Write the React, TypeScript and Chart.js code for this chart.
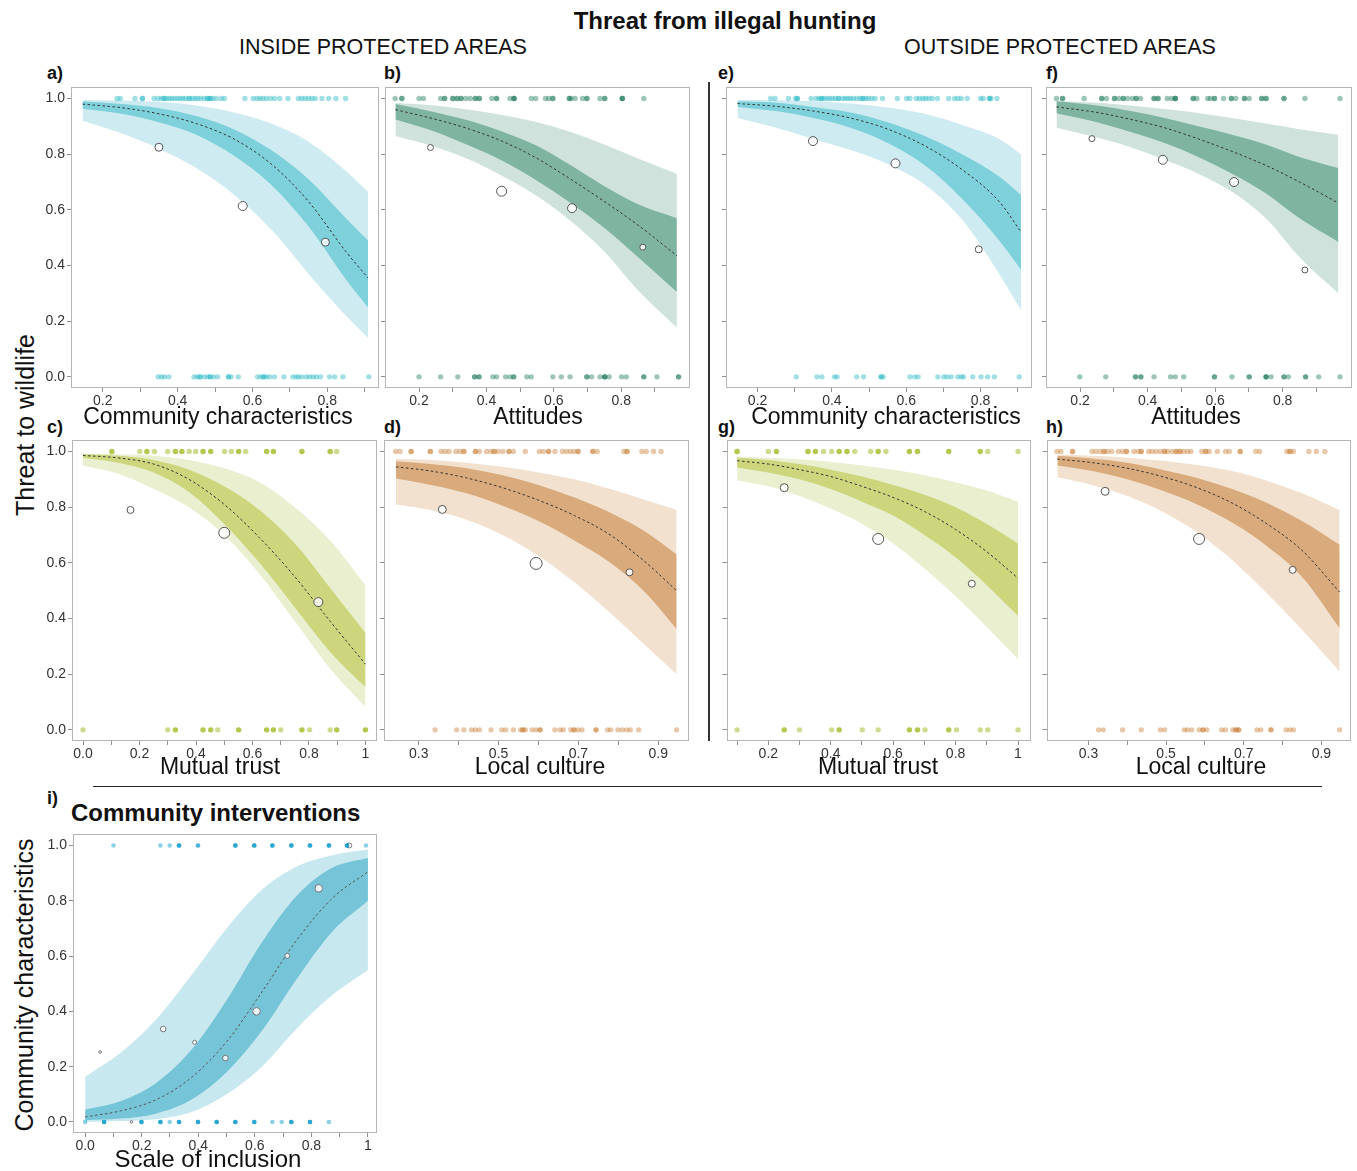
import React, { useEffect, useRef } from "react";
import { Chart, registerables } from "chart.js";

Chart.register(...registerables);

const FONT = "'Liberation Sans', Arial, Helvetica, sans-serif";
Chart.defaults.font.family = FONT;

// ---------- shared axis ticks ----------
const Y_TICKS = [0, 0.2, 0.4, 0.6, 0.8, 1.0];
const Y_TICK_LABELS = ["0.0", "0.2", "0.4", "0.6", "0.8", "1.0"];

const XT_CC = [0.2, 0.3, 0.4, 0.5, 0.6, 0.7, 0.8, 0.9];
const XL_CC = ["0.2", "", "0.4", "", "0.6", "", "0.8", ""];
const XT_MT_IN = [0, 0.1, 0.2, 0.3, 0.4, 0.5, 0.6, 0.7, 0.8, 0.9, 1.0];
const XL_MT_IN = ["0.0", "", "0.2", "", "0.4", "", "0.6", "", "0.8", "", "1"];
const XT_MT_OUT = [0.1, 0.2, 0.3, 0.4, 0.5, 0.6, 0.7, 0.8, 0.9, 1.0];
const XL_MT_OUT = ["", "0.2", "", "0.4", "", "0.6", "", "0.8", "", "1"];
const XT_LC = [0.3, 0.4, 0.5, 0.6, 0.7, 0.8, 0.9];
const XL_LC = ["0.3", "", "0.5", "", "0.7", "", "0.9"];

// ---------- a) inside, community characteristics ----------
const A_X = [0.146, 0.25, 0.35, 0.45, 0.55, 0.65, 0.75, 0.85, 0.909];
const A_MEAN = [0.98, 0.967, 0.945, 0.91, 0.855, 0.765, 0.63, 0.45, 0.355];
const A_IN_HI = [0.99, 0.98, 0.965, 0.937, 0.89, 0.815, 0.71, 0.57, 0.49];
const A_IN_LO = [0.963, 0.945, 0.915, 0.87, 0.795, 0.69, 0.54, 0.35, 0.25];
const A_OUT_HI = [0.995, 0.993, 0.988, 0.975, 0.95, 0.91, 0.845, 0.74, 0.665];
const A_OUT_LO = [0.92, 0.875, 0.82, 0.75, 0.655, 0.53, 0.37, 0.22, 0.14];
const A_CX = [0.35, 0.574, 0.795];
const A_CY = [0.825, 0.614, 0.484];
const A_CR = [4, 4.5, 4];
const A_TOP = [0.238, 0.247, 0.286, 0.306, 0.306, 0.337, 0.348, 0.357, 0.364, 0.364, 0.371, 0.378, 0.385, 0.392, 0.4, 0.407, 0.414, 0.421, 0.431, 0.431, 0.44, 0.447, 0.454, 0.462, 0.471, 0.48, 0.48, 0.487, 0.487, 0.494, 0.503, 0.516, 0.525, 0.58, 0.602, 0.612, 0.62, 0.628, 0.637, 0.648, 0.659, 0.673, 0.695, 0.723, 0.732, 0.741, 0.75, 0.759, 0.768, 0.786, 0.804, 0.823, 0.849];
const A_BOT = [0.348, 0.357, 0.365, 0.377, 0.444, 0.453, 0.46, 0.46, 0.471, 0.48, 0.487, 0.487, 0.496, 0.507, 0.536, 0.536, 0.543, 0.562, 0.614, 0.623, 0.63, 0.63, 0.637, 0.646, 0.659, 0.684, 0.708, 0.717, 0.723, 0.732, 0.744, 0.753, 0.762, 0.771, 0.782, 0.806, 0.82, 0.842, 0.911];

// ---------- b) inside, attitudes ----------
const B_X = [0.13, 0.25, 0.35, 0.45, 0.55, 0.65, 0.75, 0.85, 0.965];
const B_MEAN = [0.96, 0.925, 0.89, 0.845, 0.785, 0.71, 0.63, 0.545, 0.435];
const B_IN_HI = [0.98, 0.95, 0.92, 0.88, 0.83, 0.76, 0.685, 0.62, 0.57];
const B_IN_LO = [0.925, 0.88, 0.83, 0.775, 0.705, 0.625, 0.535, 0.43, 0.305];
const B_OUT_HI = [0.985, 0.975, 0.96, 0.94, 0.915, 0.88, 0.835, 0.785, 0.73];
const B_OUT_LO = [0.865, 0.825, 0.78, 0.72, 0.65, 0.56, 0.45, 0.31, 0.177];
const B_CX = [0.234, 0.445, 0.654, 0.864];
const B_CY = [0.824, 0.667, 0.606, 0.466];
const B_CR = [3, 5, 4.5, 3];
const B_TOP = [0.129, 0.149, 0.149, 0.2, 0.213, 0.264, 0.276, 0.276, 0.3, 0.3, 0.313, 0.313, 0.325, 0.325, 0.339, 0.352, 0.367, 0.367, 0.379, 0.379, 0.416, 0.43, 0.43, 0.47, 0.482, 0.482, 0.482, 0.533, 0.546, 0.575, 0.585, 0.597, 0.597, 0.646, 0.646, 0.651, 0.663, 0.685, 0.698, 0.698, 0.737, 0.751, 0.751, 0.803, 0.803, 0.803, 0.867];
const B_BOT = [0.2, 0.264, 0.315, 0.365, 0.365, 0.378, 0.378, 0.419, 0.43, 0.457, 0.47, 0.481, 0.481, 0.52, 0.533, 0.597, 0.622, 0.648, 0.698, 0.698, 0.712, 0.737, 0.751, 0.751, 0.751, 0.764, 0.801, 0.815, 0.867, 0.867, 0.906, 0.97, 0.97];

// ---------- c) inside, mutual trust ----------
const C_X = [0, 0.125, 0.25, 0.375, 0.5, 0.625, 0.75, 0.875, 1];
const C_MEAN = [0.986, 0.977, 0.955, 0.9, 0.81, 0.69, 0.55, 0.39, 0.236];
const C_IN_HI = [0.99, 0.985, 0.97, 0.935, 0.875, 0.79, 0.67, 0.51, 0.348];
const C_IN_LO = [0.978, 0.96, 0.925, 0.855, 0.74, 0.6, 0.44, 0.28, 0.153];
const C_OUT_HI = [0.993, 0.99, 0.985, 0.97, 0.94, 0.89, 0.8, 0.68, 0.52];
const C_OUT_LO = [0.95, 0.92, 0.865, 0.8, 0.7, 0.56, 0.39, 0.22, 0.083];
const C_CX = [0.168, 0.5, 0.833];
const C_CY = [0.79, 0.708, 0.459];
const C_CR = [3.5, 5.5, 4.5];
const C_TOP = [0.102, 0.102, 0.201, 0.226, 0.226, 0.253, 0.3, 0.327, 0.327, 0.35, 0.35, 0.376, 0.399, 0.425, 0.425, 0.452, 0.452, 0.501, 0.525, 0.551, 0.551, 0.576, 0.65, 0.65, 0.674, 0.674, 0.775, 0.775, 0.875, 0.875, 0.898];
const C_BOT = [0, 0.3, 0.327, 0.327, 0.425, 0.425, 0.452, 0.452, 0.477, 0.551, 0.551, 0.65, 0.65, 0.674, 0.674, 0.7, 0.775, 0.775, 0.802, 0.875, 0.898, 0.898, 1.0, 1.0];

// ---------- d) inside, local culture ----------
const D_X = [0.243, 0.33, 0.42, 0.51, 0.6, 0.69, 0.78, 0.87, 0.946];
const D_MEAN = [0.945, 0.93, 0.905, 0.87, 0.825, 0.77, 0.7, 0.6, 0.5];
const D_IN_HI = [0.965, 0.955, 0.94, 0.915, 0.88, 0.835, 0.78, 0.71, 0.63];
const D_IN_LO = [0.903, 0.88, 0.85, 0.805, 0.75, 0.68, 0.6, 0.49, 0.362];
const D_OUT_HI = [0.973, 0.97, 0.96, 0.945, 0.925, 0.9, 0.865, 0.825, 0.79];
const D_OUT_LO = [0.81, 0.79, 0.755, 0.7, 0.625, 0.53, 0.42, 0.3, 0.2];
const D_CX = [0.359, 0.594, 0.828];
const D_CY = [0.792, 0.598, 0.566];
const D_CR = [4, 6, 3.5];
const D_TOP = [0.242, 0.253, 0.281, 0.281, 0.329, 0.329, 0.356, 0.366, 0.376, 0.393, 0.403, 0.413, 0.413, 0.442, 0.442, 0.452, 0.47, 0.481, 0.489, 0.489, 0.499, 0.511, 0.526, 0.526, 0.537, 0.567, 0.602, 0.612, 0.625, 0.625, 0.641, 0.66, 0.67, 0.68, 0.689, 0.699, 0.699, 0.736, 0.736, 0.747, 0.814, 0.822, 0.822, 0.859, 0.87, 0.888, 0.907];
const D_BOT = [0.341, 0.395, 0.413, 0.432, 0.442, 0.452, 0.481, 0.508, 0.518, 0.537, 0.555, 0.561, 0.561, 0.567, 0.584, 0.594, 0.604, 0.604, 0.641, 0.654, 0.662, 0.681, 0.689, 0.689, 0.699, 0.709, 0.744, 0.744, 0.773, 0.781, 0.799, 0.81, 0.821, 0.83, 0.851, 0.946];

// ---------- e) outside, community characteristics ----------
const E_X = [0.146, 0.25, 0.35, 0.45, 0.55, 0.65, 0.75, 0.85, 0.909];
const E_MEAN = [0.982, 0.972, 0.955, 0.93, 0.89, 0.83, 0.745, 0.63, 0.52];
const E_IN_HI = [0.99, 0.985, 0.97, 0.95, 0.915, 0.865, 0.8, 0.72, 0.653];
const E_IN_LO = [0.97, 0.955, 0.93, 0.895, 0.84, 0.76, 0.64, 0.49, 0.385];
const E_OUT_HI = [0.995, 0.994, 0.99, 0.982, 0.968, 0.945, 0.905, 0.855, 0.8];
const E_OUT_LO = [0.93, 0.895, 0.855, 0.815, 0.765, 0.69, 0.565, 0.37, 0.24];
const E_CX = [0.349, 0.571, 0.795];
const E_CY = [0.847, 0.767, 0.458];
const E_CR = [4.5, 4.5, 3.5];
const E_TOP = [0.235, 0.247, 0.283, 0.302, 0.307, 0.307, 0.344, 0.357, 0.365, 0.372, 0.372, 0.379, 0.387, 0.394, 0.402, 0.409, 0.418, 0.418, 0.429, 0.436, 0.443, 0.45, 0.458, 0.467, 0.476, 0.483, 0.483, 0.491, 0.498, 0.507, 0.516, 0.536, 0.576, 0.601, 0.61, 0.627, 0.636, 0.645, 0.652, 0.661, 0.67, 0.684, 0.714, 0.73, 0.739, 0.748, 0.764, 0.8, 0.807, 0.824, 0.824, 0.828, 0.844];
const E_BOT = [0.304, 0.36, 0.373, 0.407, 0.414, 0.467, 0.485, 0.532, 0.532, 0.538, 0.61, 0.623, 0.632, 0.685, 0.701, 0.71, 0.721, 0.739, 0.748, 0.754, 0.779, 0.801, 0.819, 0.837, 0.904];

// ---------- f) outside, attitudes ----------
const F_X = [0.13, 0.25, 0.35, 0.45, 0.55, 0.65, 0.75, 0.85, 0.965];
const F_MEAN = [0.97, 0.95, 0.925, 0.895, 0.855, 0.81, 0.76, 0.7, 0.625];
const F_IN_HI = [0.99, 0.975, 0.955, 0.93, 0.9, 0.87, 0.835, 0.79, 0.75];
const F_IN_LO = [0.947, 0.915, 0.88, 0.84, 0.79, 0.73, 0.66, 0.57, 0.485];
const F_OUT_HI = [0.992, 0.985, 0.975, 0.962, 0.948, 0.93, 0.91, 0.89, 0.87];
const F_OUT_LO = [0.895, 0.86, 0.825, 0.78, 0.73, 0.665, 0.57, 0.43, 0.3];
const F_CX = [0.235, 0.445, 0.656, 0.866];
const F_CY = [0.856, 0.78, 0.7, 0.384];
const F_CR = [3, 4.5, 4.5, 3];
const F_TOP = [0.13, 0.148, 0.148, 0.212, 0.264, 0.264, 0.278, 0.302, 0.302, 0.315, 0.328, 0.328, 0.341, 0.355, 0.366, 0.366, 0.379, 0.419, 0.419, 0.431, 0.431, 0.458, 0.471, 0.482, 0.482, 0.482, 0.535, 0.535, 0.546, 0.578, 0.586, 0.598, 0.598, 0.625, 0.648, 0.648, 0.661, 0.687, 0.687, 0.701, 0.738, 0.738, 0.751, 0.751, 0.804, 0.804, 0.866, 0.97];
const F_BOT = [0.199, 0.276, 0.364, 0.364, 0.38, 0.38, 0.419, 0.468, 0.482, 0.507, 0.598, 0.598, 0.65, 0.701, 0.701, 0.751, 0.751, 0.751, 0.766, 0.804, 0.804, 0.817, 0.868, 0.868, 0.907, 0.97];

// ---------- g) outside, mutual trust ----------
const G_X = [0.1, 0.2, 0.3, 0.4, 0.5, 0.6, 0.7, 0.8, 0.9, 1.0];
const G_MEAN = [0.967, 0.955, 0.935, 0.91, 0.875, 0.835, 0.785, 0.72, 0.64, 0.545];
const G_IN_HI = [0.978, 0.97, 0.955, 0.935, 0.91, 0.88, 0.845, 0.8, 0.74, 0.67];
const G_IN_LO = [0.943, 0.925, 0.9, 0.865, 0.82, 0.77, 0.7, 0.62, 0.52, 0.41];
const G_OUT_HI = [0.982, 0.978, 0.972, 0.962, 0.95, 0.935, 0.915, 0.89, 0.86, 0.82];
const G_OUT_LO = [0.896, 0.875, 0.84, 0.795, 0.74, 0.67, 0.58, 0.48, 0.37, 0.254];
const G_CX = [0.251, 0.552, 0.852];
const G_CY = [0.87, 0.686, 0.525];
const G_CR = [4, 5.5, 3.5];
const G_TOP = [0.1, 0.1, 0.2, 0.226, 0.226, 0.327, 0.327, 0.351, 0.351, 0.377, 0.403, 0.427, 0.427, 0.452, 0.452, 0.477, 0.528, 0.552, 0.552, 0.577, 0.652, 0.652, 0.678, 0.678, 0.778, 0.778, 0.879, 0.879, 0.903, 1.0];
const G_BOT = [0.1, 0.251, 0.251, 0.3, 0.403, 0.427, 0.427, 0.501, 0.552, 0.652, 0.652, 0.678, 0.678, 0.702, 0.778, 0.778, 0.803, 0.879, 0.903, 1.0];

// ---------- h) outside, local culture ----------
const H_X = [0.22, 0.31, 0.4, 0.49, 0.58, 0.67, 0.76, 0.85, 0.947];
const H_MEAN = [0.973, 0.96, 0.94, 0.91, 0.87, 0.815, 0.74, 0.645, 0.495];
const H_IN_HI = [0.985, 0.975, 0.96, 0.935, 0.905, 0.865, 0.815, 0.75, 0.665];
const H_IN_LO = [0.95, 0.93, 0.9, 0.86, 0.81, 0.745, 0.66, 0.55, 0.365];
const H_OUT_HI = [0.988, 0.985, 0.978, 0.967, 0.952, 0.93, 0.895, 0.85, 0.79];
const H_OUT_LO = [0.908, 0.88, 0.84, 0.785, 0.71, 0.61, 0.49, 0.36, 0.21];
const H_CX = [0.343, 0.585, 0.826];
const H_CY = [0.857, 0.686, 0.575];
const H_CR = [4, 5.5, 3.5];
const H_TOP = [0.219, 0.229, 0.259, 0.259, 0.309, 0.319, 0.33, 0.34, 0.34, 0.349, 0.36, 0.377, 0.388, 0.398, 0.398, 0.417, 0.428, 0.436, 0.436, 0.455, 0.464, 0.474, 0.485, 0.496, 0.496, 0.504, 0.515, 0.526, 0.526, 0.536, 0.536, 0.545, 0.555, 0.564, 0.592, 0.602, 0.602, 0.611, 0.632, 0.653, 0.663, 0.691, 0.691, 0.731, 0.741, 0.811, 0.819, 0.819, 0.828, 0.868, 0.887, 0.909];
const H_BOT = [0.326, 0.338, 0.388, 0.436, 0.485, 0.496, 0.547, 0.555, 0.566, 0.585, 0.595, 0.595, 0.605, 0.643, 0.653, 0.672, 0.68, 0.68, 0.687, 0.687, 0.734, 0.744, 0.77, 0.77, 0.809, 0.819, 0.828, 0.947];

// ---------- i) community interventions ----------
const I_X = [0, 0.125, 0.25, 0.375, 0.5, 0.625, 0.75, 0.875, 1];
const I_MEAN = [0.018, 0.04, 0.08, 0.16, 0.29, 0.47, 0.66, 0.81, 0.905];
const I_IN_HI = [0.045, 0.075, 0.14, 0.26, 0.44, 0.65, 0.82, 0.92, 0.955];
const I_IN_LO = [0.006, 0.012, 0.03, 0.08, 0.18, 0.33, 0.52, 0.69, 0.8];
const I_OUT_HI = [0.163, 0.25, 0.37, 0.53, 0.7, 0.84, 0.925, 0.965, 0.985];
const I_OUT_LO = [0.0, 0.003, 0.01, 0.035, 0.1, 0.2, 0.34, 0.46, 0.55];
const I_CX = [0.053, 0.164, 0.276, 0.387, 0.496, 0.606, 0.715, 0.826, 0.934];
const I_CY = [0.253, 0.0, 0.336, 0.288, 0.231, 0.4, 0.601, 0.845, 1.0];
const I_CR = [1.3, 1.3, 2.8, 2, 2.8, 3.8, 2.5, 3.8, 2.5];
const I_TOP = [0.1, 0.266, 0.299, 0.332, 0.332, 0.332, 0.399, 0.399, 0.531, 0.531, 0.531, 0.598, 0.598, 0.598, 0.662, 0.662, 0.662, 0.729, 0.729, 0.729, 0.795, 0.795, 0.795, 0.862, 0.862, 0.862, 0.926, 0.926, 0.926, 0.993];
const I_BOT = [0, 0.067, 0.067, 0.067, 0.199, 0.199, 0.199, 0.266, 0.266, 0.266, 0.299, 0.332, 0.332, 0.332, 0.399, 0.399, 0.399, 0.465, 0.465, 0.465, 0.531, 0.531, 0.531, 0.598, 0.598, 0.598, 0.662, 0.695, 0.729, 0.729, 0.729, 0.795, 0.795, 0.795, 0.862];

// ---------- palettes ----------
type Pal = { light: string; dark: string; dot: string };
const TEAL: Pal = { light: "#cdebf0", dark: "#7ed1da", dot: "rgba(45,186,198,0.45)" };
const GREEN: Pal = { light: "#cfe3dc", dark: "#7fb4a1", dot: "rgba(25,120,85,0.42)" };
const OLIVE: Pal = { light: "#e9efcf", dark: "#cdd57d", dot: "rgba(150,178,10,0.47)" };
const TAN: Pal = { light: "#f2e1ce", dark: "#d9aa7b", dot: "rgba(200,125,50,0.42)" };
const BLUE: Pal = { light: "#c8e8f0", dark: "#76c4d8", dot: "rgba(0,150,200,0.45)" };

type PanelDef = {
  id: string;
  box: [number, number, number, number];
  padL: number;
  xMin: number;
  xMax: number;
  xTicks: number[];
  xLabels: string[];
  yLabels: boolean;
  pal: Pal;
  x: number[];
  mean: number[];
  inLo: number[];
  inHi: number[];
  outLo: number[];
  outHi: number[];
  cx: number[];
  cy: number[];
  cr: number[];
  top: number[];
  bot: number[];
  dotR: number;
  circleColor: string;
  meanColor: string;
};

const pts = (xs: number[], ys: number[]) => xs.map((x, i) => ({ x, y: ys[i] }));
const row = (xs: number[], y: number) => xs.map((x) => ({ x, y }));

const ROW1_TOP = 83;
const ROW2_TOP = 436;
const BOX_H = 305;

const PANELS: PanelDef[] = [
  { id: "a", box: [71, ROW1_TOP, 309, BOX_H], padL: 41, xMin: 0.115, xMax: 0.937, xTicks: XT_CC, xLabels: XL_CC, yLabels: true, pal: TEAL,
    x: A_X, mean: A_MEAN, inLo: A_IN_LO, inHi: A_IN_HI, outLo: A_OUT_LO, outHi: A_OUT_HI, cx: A_CX, cy: A_CY, cr: A_CR, top: A_TOP, bot: A_BOT, dotR: 2.7, circleColor: "#555", meanColor: "#333" },
  { id: "b", box: [385, ROW1_TOP, 307, BOX_H], padL: 6, xMin: 0.099, xMax: 1.004, xTicks: XT_CC, xLabels: XL_CC, yLabels: false, pal: GREEN,
    x: B_X, mean: B_MEAN, inLo: B_IN_LO, inHi: B_IN_HI, outLo: B_OUT_LO, outHi: B_OUT_HI, cx: B_CX, cy: B_CY, cr: B_CR, top: B_TOP, bot: B_BOT, dotR: 2.7, circleColor: "#555", meanColor: "#333" },
  { id: "e", box: [726, ROW1_TOP, 307, BOX_H], padL: 6, xMin: 0.115, xMax: 0.937, xTicks: XT_CC, xLabels: XL_CC, yLabels: false, pal: TEAL,
    x: E_X, mean: E_MEAN, inLo: E_IN_LO, inHi: E_IN_HI, outLo: E_OUT_LO, outHi: E_OUT_HI, cx: E_CX, cy: E_CY, cr: E_CR, top: E_TOP, bot: E_BOT, dotR: 2.7, circleColor: "#555", meanColor: "#333" },
  { id: "f", box: [1046, ROW1_TOP, 307, BOX_H], padL: 6, xMin: 0.099, xMax: 1.004, xTicks: XT_CC, xLabels: XL_CC, yLabels: false, pal: GREEN,
    x: F_X, mean: F_MEAN, inLo: F_IN_LO, inHi: F_IN_HI, outLo: F_OUT_LO, outHi: F_OUT_HI, cx: F_CX, cy: F_CY, cr: F_CR, top: F_TOP, bot: F_BOT, dotR: 2.7, circleColor: "#555", meanColor: "#333" },
  { id: "c", box: [72, ROW2_TOP, 307, BOX_H], padL: 42, xMin: -0.039, xMax: 1.039, xTicks: XT_MT_IN, xLabels: XL_MT_IN, yLabels: true, pal: OLIVE,
    x: C_X, mean: C_MEAN, inLo: C_IN_LO, inHi: C_IN_HI, outLo: C_OUT_LO, outHi: C_OUT_HI, cx: C_CX, cy: C_CY, cr: C_CR, top: C_TOP, bot: C_BOT, dotR: 2.7, circleColor: "#555", meanColor: "#333" },
  { id: "d", box: [383, ROW2_TOP, 309, BOX_H], padL: 6, xMin: 0.213, xMax: 0.977, xTicks: XT_LC, xLabels: XL_LC, yLabels: false, pal: TAN,
    x: D_X, mean: D_MEAN, inLo: D_IN_LO, inHi: D_IN_HI, outLo: D_OUT_LO, outHi: D_OUT_HI, cx: D_CX, cy: D_CY, cr: D_CR, top: D_TOP, bot: D_BOT, dotR: 2.7, circleColor: "#555", meanColor: "#333" },
  { id: "g", box: [726, ROW2_TOP, 307, BOX_H], padL: 6, xMin: 0.066, xMax: 1.04, xTicks: XT_MT_OUT, xLabels: XL_MT_OUT, yLabels: false, pal: OLIVE,
    x: G_X, mean: G_MEAN, inLo: G_IN_LO, inHi: G_IN_HI, outLo: G_OUT_LO, outHi: G_OUT_HI, cx: G_CX, cy: G_CY, cr: G_CR, top: G_TOP, bot: G_BOT, dotR: 2.7, circleColor: "#555", meanColor: "#333" },
  { id: "h", box: [1046, ROW2_TOP, 307, BOX_H], padL: 6, xMin: 0.192, xMax: 0.975, xTicks: XT_LC, xLabels: XL_LC, yLabels: false, pal: TAN,
    x: H_X, mean: H_MEAN, inLo: H_IN_LO, inHi: H_IN_HI, outLo: H_OUT_LO, outHi: H_OUT_HI, cx: H_CX, cy: H_CY, cr: H_CR, top: H_TOP, bot: H_BOT, dotR: 2.7, circleColor: "#555", meanColor: "#333" },
  { id: "i", box: [73, 830, 305, 303], padL: 42, xMin: -0.043, xMax: 1.032, xTicks: XT_MT_IN, xLabels: XL_MT_IN, yLabels: true, pal: BLUE,
    x: I_X, mean: I_MEAN, inLo: I_IN_LO, inHi: I_IN_HI, outLo: I_OUT_LO, outHi: I_OUT_HI, cx: I_CX, cy: I_CY, cr: I_CR, top: I_TOP, bot: I_BOT, dotR: 2.3, circleColor: "#777", meanColor: "#555" },
];

const PAD_T = 6;
const PAD_R = 4;
const PAD_B = 26;

function Panel({ d }: { d: PanelDef }) {
  const ref = useRef<HTMLCanvasElement | null>(null);
  const [bl, bt, bw, bh] = d.box;
  const cw = d.padL + bw + PAD_R;
  const ch = PAD_T + bh + PAD_B;

  useEffect(() => {
    const frame = {
      id: "frame_" + d.id,
      beforeDatasetsDraw(chart: any) {
        const { ctx, chartArea: a } = chart;
        ctx.save();
        ctx.strokeStyle = "#b4b4b4";
        ctx.lineWidth = 1;
        ctx.strokeRect(Math.round(a.left) + 0.5, Math.round(a.top) + 0.5, Math.round(a.right - a.left) - 1, Math.round(a.bottom - a.top) - 1);
        ctx.restore();
      },
    };
    const band = {
      type: "line" as const,
      pointRadius: 0,
      borderWidth: 0,
      borderColor: "transparent",
      tension: 0.4,
      cubicInterpolationMode: "monotone" as const,
    };
    const chart = new Chart(ref.current as HTMLCanvasElement, {
      type: "scatter",
      data: {
        datasets: [
          { ...band, data: pts(d.x, d.outHi), fill: "+1", backgroundColor: d.pal.light, order: 5 },
          { ...band, data: pts(d.x, d.outLo), fill: false, order: 5 },
          { ...band, data: pts(d.x, d.inHi), fill: "+1", backgroundColor: d.pal.dark, order: 4 },
          { ...band, data: pts(d.x, d.inLo), fill: false, order: 4 },
          {
            type: "line",
            data: pts(d.x, d.mean),
            fill: false,
            pointRadius: 0,
            borderColor: d.meanColor,
            borderWidth: 1,
            borderDash: [2.5, 2.5],
            tension: 0.4,
            cubicInterpolationMode: "monotone",
            order: 3,
          },
          {
            type: "scatter",
            data: pts(d.cx, d.cy),
            pointRadius: d.cr,
            pointBackgroundColor: "rgba(255,255,255,0.85)",
            pointBorderColor: d.circleColor,
            pointBorderWidth: 1,
            clip: false,
            order: 2,
          },
          { type: "scatter", data: row(d.top, 1), pointRadius: d.dotR, pointBackgroundColor: d.pal.dot, pointBorderWidth: 0, clip: false, order: 1 },
          { type: "scatter", data: row(d.bot, 0), pointRadius: d.dotR, pointBackgroundColor: d.pal.dot, pointBorderWidth: 0, clip: false, order: 1 },
        ] as any,
      },
      options: {
        animation: false,
        responsive: false,
        events: [],
        layout: { padding: { top: PAD_T, right: PAD_R, left: 0, bottom: 0 } },
        plugins: { legend: { display: false }, tooltip: { enabled: false }, title: { display: false } },
        scales: {
          x: {
            type: "linear",
            min: d.xMin,
            max: d.xMax,
            afterBuildTicks: (s: any) => {
              s.ticks = d.xTicks.map((v) => ({ value: v }));
            },
            afterFit: (s: any) => {
              s.height = PAD_B;
            },
            grid: { display: true, drawOnChartArea: false, drawTicks: true, tickLength: 4, color: "#8f8f8f" },
            border: { display: false },
            ticks: {
              autoSkip: false,
              maxRotation: 0,
              padding: 1,
              color: "#333",
              font: { size: 14, family: FONT },
              callback: (_v: any, i: number) => d.xLabels[i],
            },
          },
          y: {
            type: "linear",
            min: -0.04,
            max: 1.04,
            afterBuildTicks: (s: any) => {
              s.ticks = Y_TICKS.map((v) => ({ value: v }));
            },
            afterFit: (s: any) => {
              s.width = d.padL;
            },
            grid: { display: true, drawOnChartArea: false, drawTicks: true, tickLength: 4, color: "#8f8f8f" },
            border: { display: false },
            ticks: {
              padding: 2,
              color: "#333",
              font: { size: 14, family: FONT },
              callback: (_v: any, i: number) => (d.yLabels ? Y_TICK_LABELS[i] : ""),
            },
          },
        },
      } as any,
      plugins: [frame],
    });
    return () => chart.destroy();
  }, []);

  return (
    <canvas
      ref={ref}
      width={cw}
      height={ch}
      style={{ position: "absolute", left: bl - d.padL, top: bt - PAD_T, width: cw, height: ch }}
    />
  );
}

function Txt({ x, base, size, bold, align, children }: { x: number; base: number; size: number; bold?: boolean; align: "left" | "center"; children: React.ReactNode }) {
  const top = base - 0.8465 * size;
  const style: React.CSSProperties = {
    position: "absolute",
    top,
    fontFamily: FONT,
    fontSize: size,
    lineHeight: `${size}px`,
    fontWeight: bold ? 700 : 400,
    color: "#111",
    whiteSpace: "nowrap",
  };
  if (align === "center") {
    style.left = x - 300;
    style.width = 600;
    style.textAlign = "center";
  } else {
    style.left = x;
  }
  return <div style={style}>{children}</div>;
}

function VTxt({ cx, cy, size, children }: { cx: number; cy: number; size: number; children: React.ReactNode }) {
  return (
    <div
      style={{
        position: "absolute",
        left: cx,
        top: cy,
        transform: "translate(-50%, -50%) rotate(-90deg)",
        fontFamily: FONT,
        fontSize: size,
        lineHeight: `${size}px`,
        color: "#111",
        whiteSpace: "nowrap",
      }}
    >
      {children}
    </div>
  );
}

export default function App() {
  return (
    <div style={{ position: "absolute", left: 0, top: 0, width: 1357, height: 1171, background: "#fff", overflow: "hidden" }}>
      <Txt x={725} base={29} size={24} bold align="center">Threat from illegal hunting</Txt>
      <Txt x={383} base={55} size={21.5} align="center">INSIDE PROTECTED AREAS</Txt>
      <Txt x={1060} base={55} size={21.5} align="center">OUTSIDE PROTECTED AREAS</Txt>

      <Txt x={47} base={79} size={18} bold align="left">a)</Txt>
      <Txt x={384} base={79} size={18} bold align="left">b)</Txt>
      <Txt x={718} base={79} size={18} bold align="left">e)</Txt>
      <Txt x={1046} base={79} size={18} bold align="left">f)</Txt>
      <Txt x={47} base={433} size={18} bold align="left">c)</Txt>
      <Txt x={384} base={433} size={18} bold align="left">d)</Txt>
      <Txt x={718} base={433} size={18} bold align="left">g)</Txt>
      <Txt x={1046} base={433} size={18} bold align="left">h)</Txt>
      <Txt x={47} base={804} size={18} bold align="left">i)</Txt>

      <Txt x={71} base={821} size={24} bold align="left">Community interventions</Txt>

      <VTxt cx={25} cy={425} size={25}>Threat to wildlife</VTxt>
      <VTxt cx={24} cy={985} size={25}>Community characteristics</VTxt>

      <div style={{ position: "absolute", left: 708, top: 82, width: 2, height: 659, background: "#333" }} />
      <div style={{ position: "absolute", left: 93, top: 786, width: 1229, height: 1, background: "#222" }} />

      {PANELS.map((p) => (
        <Panel key={p.id} d={p} />
      ))}

      <Txt x={218} base={424} size={23} align="center">Community characteristics</Txt>
      <Txt x={538} base={424} size={23} align="center">Attitudes</Txt>
      <Txt x={886} base={424} size={23} align="center">Community characteristics</Txt>
      <Txt x={1196} base={424} size={23} align="center">Attitudes</Txt>
      <Txt x={220} base={774} size={23} align="center">Mutual trust</Txt>
      <Txt x={540} base={774} size={23} align="center">Local culture</Txt>
      <Txt x={878} base={774} size={23} align="center">Mutual trust</Txt>
      <Txt x={1201} base={774} size={23} align="center">Local culture</Txt>
      <Txt x={208} base={1167} size={24} align="center">Scale of inclusion</Txt>
    </div>
  );
}
